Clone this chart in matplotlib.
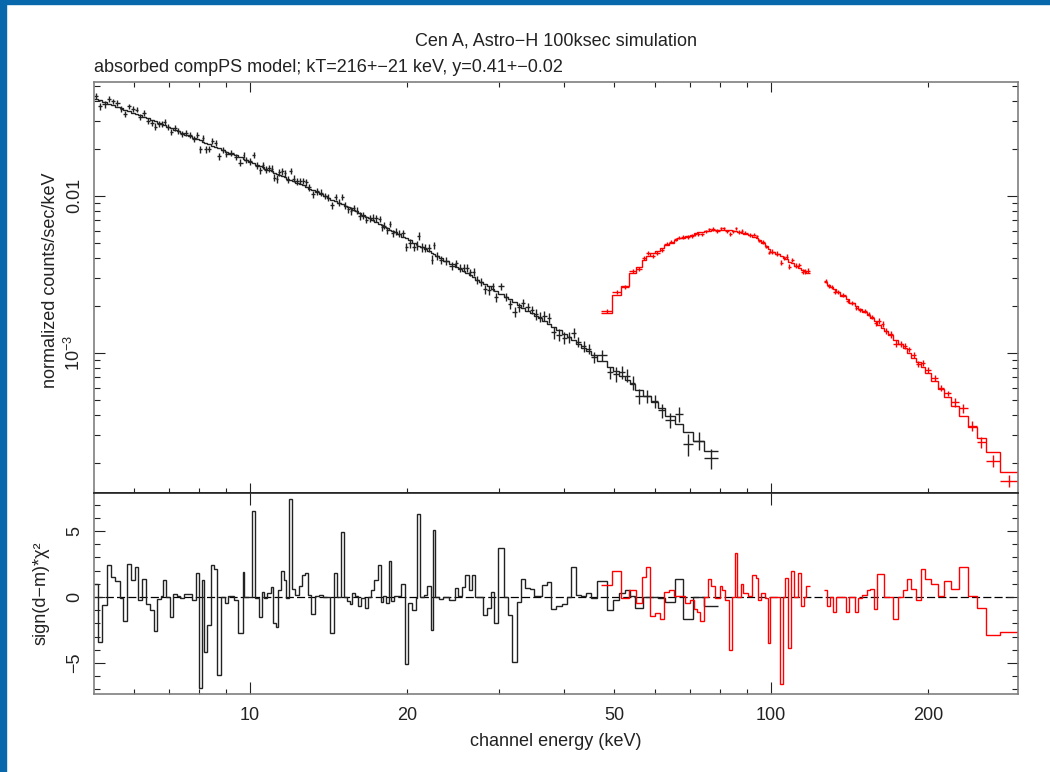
import numpy as np
import matplotlib as mpl
import matplotlib.pyplot as plt
from matplotlib.ticker import LogLocator, FuncFormatter, MultipleLocator, NullFormatter
from matplotlib.patches import Rectangle

mpl.rcParams['font.family'] = ['Liberation Sans', 'DejaVu Sans']
mpl.rcParams['mathtext.fontset'] = 'custom'
mpl.rcParams['mathtext.rm'] = 'Liberation Sans'
mpl.rcParams['mathtext.it'] = 'Liberation Sans:italic'
mpl.rcParams['mathtext.default'] = 'regular'

# ---- black spectrum (5-79 keV): channel edges (keV), log10 model, sign(d-m)*chi^2
black_edges = [
    5.03, 5.12, 5.20, 5.32, 5.41, 5.50, 5.62, 5.71, 5.81, 5.91,
    6.01, 6.11, 6.21, 6.32, 6.43, 6.54, 6.62, 6.74, 6.82, 6.91,
    7.03, 7.11, 7.23, 7.35, 7.48, 7.61, 7.74, 7.87, 7.97, 8.08,
    8.18, 8.28, 8.42, 8.53, 8.65, 8.80, 8.94, 9.09, 9.31, 9.47,
    9.68, 9.76, 9.93, 10.10, 10.23, 10.41, 10.53, 10.66, 10.80, 10.99,
    11.08, 11.21, 11.33, 11.46, 11.60, 11.75, 11.91, 12.05, 12.20, 12.41,
    12.58, 12.73, 12.90, 13.12, 13.34, 13.57, 13.80, 14.03, 14.27, 14.52,
    14.69, 14.94, 15.14, 15.35, 15.53, 15.71, 15.93, 16.14, 16.33, 16.61,
    16.84, 17.09, 17.33, 17.62, 17.86, 18.01, 18.23, 18.47, 18.69, 18.92,
    19.17, 19.50, 19.83, 20.10, 20.44, 20.79, 20.97, 21.21, 21.58, 21.87,
    22.24, 22.43, 22.70, 23.08, 23.48, 24.08, 24.70, 25.03, 25.54, 25.89,
    26.33, 26.64, 27.09, 27.55, 28.02, 28.50, 28.98, 29.47, 29.98, 30.70,
    31.28, 31.91, 32.56, 33.07, 33.80, 34.49, 35.03, 35.74, 36.41, 37.09,
    37.85, 38.74, 39.65, 40.59, 41.41, 42.19, 43.18, 44.19, 45.23, 46.30,
    48.51, 49.65, 51.06, 52.42, 53.65, 54.91, 56.90, 58.88, 60.74, 62.65,
    65.43, 67.71, 70.94, 74.54, 79.05]

black_logmodel = [
    -1.382, -1.391, -1.401, -1.412, -1.421, -1.431, -1.441, -1.450, -1.460, -1.469,
    -1.478, -1.487, -1.496, -1.506, -1.516, -1.525, -1.535, -1.543, -1.551, -1.560,
    -1.569, -1.578, -1.588, -1.598, -1.609, -1.619, -1.629, -1.638, -1.646, -1.654,
    -1.661, -1.670, -1.679, -1.688, -1.697, -1.707, -1.717, -1.730, -1.742, -1.754,
    -1.763, -1.771, -1.781, -1.791, -1.801, -1.810, -1.818, -1.826, -1.836, -1.844,
    -1.851, -1.858, -1.865, -1.873, -1.881, -1.890, -1.898, -1.906, -1.915, -1.925,
    -1.933, -1.942, -1.953, -1.964, -1.976, -1.988, -2.000, -2.011, -2.023, -2.033,
    -2.043, -2.054, -2.063, -2.072, -2.080, -2.089, -2.099, -2.109, -2.120, -2.132,
    -2.143, -2.154, -2.166, -2.178, -2.187, -2.195, -2.204, -2.214, -2.224, -2.233,
    -2.245, -2.259, -2.271, -2.283, -2.297, -2.307, -2.316, -2.328, -2.340, -2.353,
    -2.363, -2.371, -2.383, -2.397, -2.415, -2.435, -2.451, -2.466, -2.480, -2.493,
    -2.506, -2.518, -2.533, -2.548, -2.562, -2.577, -2.592, -2.606, -2.624, -2.642,
    -2.659, -2.678, -2.694, -2.711, -2.730, -2.746, -2.762, -2.780, -2.797, -2.815,
    -2.835, -2.856, -2.878, -2.901, -2.921, -2.943, -2.967, -2.991, -3.015, -3.052,
    -3.088, -3.115, -3.146, -3.174, -3.200, -3.234, -3.275, -3.315, -3.353, -3.399,
    -3.450, -3.502, -3.560, -3.622]

black_resid = [
    1.0, -3.4, -0.6, 2.4, 1.5, 1.2, -0.1, -1.8, 2.5, 1.3,
    2.3, -0.2, 1.4, -0.5, -1.0, -2.6, -0.15, 0.05, 1.3, 0.0,
    -1.5, 0.25, 0.05, -0.1, 0.2, 0.2, -0.25, 1.8, -6.9, 1.3,
    -4.2, -2.1, 2.4, 2.1, -5.9, 0.0, -0.45, 0.05, -0.2, -2.7,
    1.9, 0.0, 0.02, 6.5, -0.1, -1.5, 0.4, -0.1, 0.3, 0.75,
    -2.0, -2.3, 0.5, 2.0, 1.3, -0.1, 7.4, 0.6, 0.15, 0.85,
    1.7, 1.8, 0.15, -1.3, 0.05, 0.15, 0.0, 0.0, -2.7, 1.85,
    0.0, 4.95, 0.0, -0.3, -0.5, 0.3, 0.05, -0.7, -0.1, -0.8,
    0.0, 0.55, 1.3, 2.4, -0.4, 0.05, -0.45, 2.7, -0.3, 0.05,
    0.05, 1.0, -5.1, -0.45, -1.0, -0.1, 6.3, 0.0, 0.15, 0.8,
    -2.5, 5.1, 0.0, -0.15, 0.0, -0.2, 0.7, 0.05, 0.75, 1.7,
    0.55, 1.7, 0.0, 0.0, -1.4, -0.8, 0.35, -2.0, 3.7, 0.0,
    -1.4, -4.9, -0.4, 1.4, 0.65, 0.6, 0.05, 0.1, 0.9, 1.15,
    -0.9, -0.7, -0.5, 0.0, 2.3, 0.15, 0.05, 0.3, -0.1, 1.2,
    -1.0, -0.2, 0.3, 0.5, 0.05, -0.8, 0.0, 0.02, -0.1, -0.4,
    1.35, -1.7, 0.0, -0.65]

# relative 1-sigma errors, per energy band
black_err_edges = [5, 10, 20, 35, 50, 65, 80]
black_relerr = [0.045, 0.05, 0.06, 0.08, 0.10, 0.13]

# ---- red spectrum (47-299 keV), two contiguous channel groups
red_edges_a = [
    47.24, 49.50, 51.61, 53.49, 55.17, 56.64, 57.52, 58.70, 59.80, 61.21,
    62.46, 63.63, 65.13, 66.15, 67.18, 68.55, 69.84, 71.15, 72.04, 73.16,
    74.54, 75.71, 76.65, 78.07, 79.67, 80.54, 81.79, 83.07, 84.11, 85.16,
    86.10, 87.45, 88.40, 90.20, 92.04, 93.48, 94.50, 95.54, 97.47, 98.54,
    99.76, 101.6, 104.0, 105.3, 106.5, 107.8, 109.2, 110.5, 112.6, 114.3,
    115.8, 116.9, 118.7]
red_logmodel_a = [
    -2.745, -2.63, -2.575, -2.49, -2.455, -2.41, -2.385, -2.365, -2.35, -2.33,
    -2.31, -2.30, -2.28, -2.27, -2.265, -2.255, -2.25, -2.235, -2.23, -2.23,
    -2.225, -2.225, -2.22, -2.22, -2.215, -2.215, -2.22, -2.22, -2.225, -2.225,
    -2.23, -2.235, -2.24, -2.25, -2.26, -2.27, -2.28, -2.30, -2.32, -2.34,
    -2.355, -2.37, -2.385, -2.395, -2.405, -2.42, -2.43, -2.445, -2.46, -2.47,
    -2.48, -2.49]
red_resid_a = [
    0.9, 2.0, -0.1, 0.55, -0.45, 1.55, 2.25, -1.45, -1.2, -1.65,
    0.4, 0.55, 0.1, 0.1, 0.05, -0.45, -0.2, -0.9, -1.1, -1.85,
    0.0, 1.35, 0.85, -0.1, 0.8, 0.55, -0.2, -4.0, 0.0, 3.3,
    0.0, 1.0, 0.3, 0.05, 1.7, 1.45, -0.2, 0.3, -0.1, -3.45,
    0.0, 0.02, -6.6, 0.0, 1.45, -3.85, 2.0, 0.0, 1.8, -0.7,
    0.0, 0.85]

red_edges_b = [
    126.3, 128.3, 129.9, 131.5, 133.6, 135.6, 139.3, 141.4, 144.8, 147.0,
    149.8, 152.8, 155.2, 157.6, 160.1, 162.6, 165.1, 167.7, 171.7, 175.7,
    179.3, 182.6, 186.1, 189.9, 193.7, 198.0, 203.0, 209.4, 215.0, 221.8,
    229.8, 238.5, 248.3, 258.9, 275.4, 298.6]
red_logmodel_b = [
    -2.55, -2.565, -2.58, -2.595, -2.61, -2.635, -2.655, -2.68, -2.70, -2.72,
    -2.74, -2.76, -2.78, -2.80, -2.82, -2.84, -2.86, -2.885, -2.915, -2.945,
    -2.97, -3.00, -3.03, -3.06, -3.09, -3.13, -3.18, -3.23, -3.28, -3.34,
    -3.40, -3.47, -3.54, -3.63, -3.76]
red_resid_b = [
    0.55, -0.65, 0.0, -1.15, 0.0, 0.02, -1.1, 0.0, -1.15, -0.1,
    0.15, 0.55, 0.6, -0.9, 1.75, 1.75, 0.0, 0.02, -1.7, 0.0,
    0.55, 1.35, 0.6, -0.25, 2.15, 1.35, 0.95, 0.1, 1.25, 0.6,
    2.3, 0.05, -0.8, -2.9, -2.65]

red_err_edges = [47, 60, 100, 120, 160, 220, 300]
red_relerr = [0.03, 0.025, 0.035, 0.03, 0.045, 0.075]

title = 'Cen A, Astro\u2212H 100ksec simulation'
subtitle = 'absorbed compPS model; kT=216+\u221221 keV, y=0.41+\u22120.02'

INK = '#222222'
FRAME = '#7f7f7f'
RED = '#ff0000'
FS = 13


def channels(edges, logmodel, resid, err_edges, relerr):
    """centres, half widths, model, data and errors of one group of channels."""
    e = np.asarray(edges)
    lo, hi = e[:-1], e[1:]
    cen = 0.5 * (lo + hi)
    hw = 0.5 * (hi - lo)
    model = 10 ** np.asarray(logmodel)
    r = np.asarray(resid)
    rel = np.asarray(relerr)[np.searchsorted(err_edges, cen) - 1]
    sig = rel * model
    # data sits sqrt(|chi^2|) sigma away from the model, on the side given by the sign
    data = model + np.sign(r) * np.sqrt(np.abs(r)) * sig
    return cen, hw, model, data, sig


fig = plt.figure(figsize=(10.5, 7.72), dpi=100)
W, H = 1050, 772
ax1 = fig.add_axes([94 / W, 1 - 493 / H, 924 / W, 411 / H])
ax2 = fig.add_axes([94 / W, 1 - 694 / H, 924 / W, 201 / H], sharex=ax1)

groups = [
    (black_edges, black_logmodel, black_resid, black_err_edges, black_relerr, INK),
    (red_edges_a, red_logmodel_a, red_resid_a, red_err_edges, red_relerr, RED),
    (red_edges_b, red_logmodel_b, red_resid_b, red_err_edges, red_relerr, RED),
]
for edges, logm, res, eedges, rel, col in groups:
    cen, hw, model, data, sig = channels(edges, logm, res, eedges, rel)
    ax1.errorbar(cen, data, xerr=hw, yerr=sig, fmt='none', ecolor=col,
                 elinewidth=1.0, capsize=0)
    ax1.stairs(model, edges, baseline=None, color=col, lw=1.0)
    ax2.stairs(res, edges, baseline=None, color=col, lw=1.0)

ax2.axhline(0, color='k', lw=0.9, dashes=(6.5, 2.5), zorder=0.5)

ax1.set_xscale('log')
ax1.set_yscale('log')
ax1.set_xlim(5.02, 298)
ax1.set_ylim(1.28e-4, 0.0532)
ax2.set_ylim(-7.35, 7.88)

# x ticks: long at decades, short at 2..9, labels at 10, 20, 50, 100, 200
ax2.xaxis.set_major_locator(LogLocator(base=10, numticks=10))
ax2.xaxis.set_minor_locator(LogLocator(base=10, subs=(2, 3, 4, 5, 6, 7, 8, 9), numticks=20))
ax2.xaxis.set_major_formatter(FuncFormatter(lambda v, p: f'{v:g}'))
ax2.xaxis.set_minor_formatter(FuncFormatter(
    lambda v, p: f'{v:g}' if int(round(v)) in (20, 50, 200) else ''))

ax1.yaxis.set_major_locator(LogLocator(base=10, numticks=10))
ax1.yaxis.set_minor_locator(LogLocator(base=10, subs=(2, 3, 4, 5, 6, 7, 8, 9), numticks=20))
ax1.yaxis.set_major_formatter(FuncFormatter(
    lambda v, p: {0.01: '0.01', 0.001: '$10^{\u22123}$'}.get(round(v, 6), '')))
ax1.yaxis.set_minor_formatter(NullFormatter())

ax2.yaxis.set_major_locator(MultipleLocator(5))
ax2.yaxis.set_minor_locator(MultipleLocator(1))
ax2.yaxis.set_major_formatter(FuncFormatter(lambda v, p: f'{v:g}'.replace('-', '\u2212')))

for ax in (ax1, ax2):
    ax.tick_params(which='both', direction='in', top=True, right=True,
                   color=INK, width=0.8, labelcolor=INK, labelsize=FS)
    ax.tick_params(axis='x', which='major', length=7.2, pad=9.0)
    ax.tick_params(axis='x', which='minor', length=3.6, pad=9.0)
    ax.tick_params(axis='y', which='major', length=7.9, pad=7.5, labelrotation=90)
    ax.tick_params(axis='y', which='minor', length=4.3)
    for s in ax.spines.values():
        s.set_color(FRAME)
        s.set_linewidth(1.2)
ax1.tick_params(axis='x', which='both', labelbottom=False)
ax2.tick_params(axis='x', which='minor', top=False)
ax2.tick_params(axis='x', which='major', length=8.5)
ax1.spines['bottom'].set_color(INK)
ax2.spines['top'].set_color(INK)

fig.canvas.draw()
for ax in (ax1, ax2):
    for lab in ax.get_yticklabels():
        lab.set_va('center')

fig.text(556 / W, 1 - 45 / H, title, ha='center', va='baseline', fontsize=FS, color=INK)
fig.text(94 / W, 1 - 72 / H, subtitle, ha='left', va='baseline', fontsize=FS, color=INK)
fig.text(556 / W, 1 - 742 / H, 'channel energy (keV)', ha='center', va='center',
         fontsize=FS, color=INK)
fig.text(51 / W, 1 - 280 / H, 'normalized counts/sec/keV', rotation=90,
         ha='center', va='center', fontsize=FS, color=INK)
fig.text(41 / W, 1 - 593.5 / H, 'sign(d\u2212m)*\u03c7\u00b2', rotation=90,
         ha='center', va='center', fontsize=FS, color=INK)

# blue page frame on the left and top
fig.patches.append(Rectangle((0, 0), 6 / W, 1, transform=fig.transFigure,
                             color='#0868ac', zorder=10))
fig.patches.append(Rectangle((0, 1 - 4 / H), 1, 4 / H, transform=fig.transFigure,
                             color='#0868ac', zorder=10))

fig.savefig('out.png', dpi=100)
